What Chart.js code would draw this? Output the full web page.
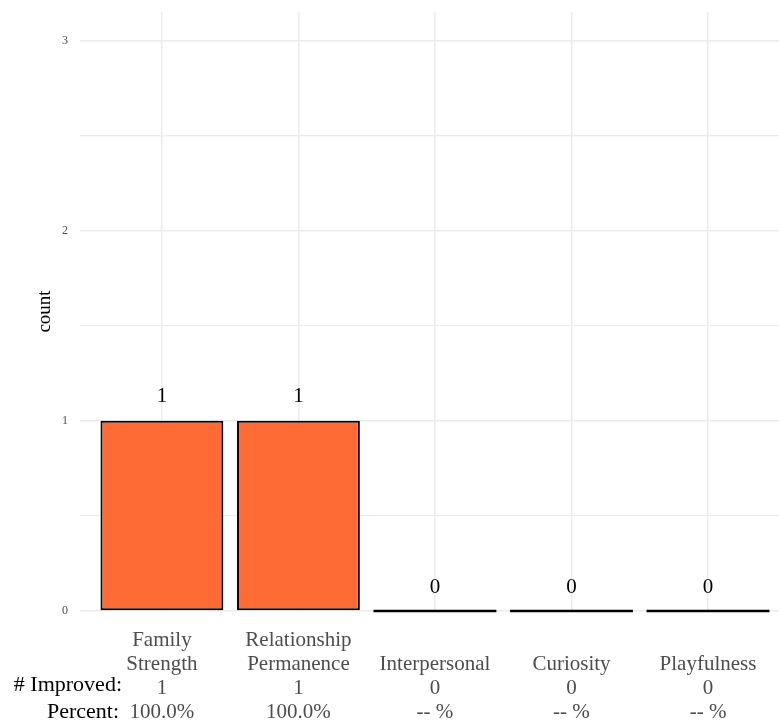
<!DOCTYPE html>
<html>
<head>
<meta charset="utf-8">
<script src="https://cdn.jsdelivr.net/npm/chart.js@4.4.1/dist/chart.umd.min.js"></script>
<style>
  html, body { margin: 0; padding: 0; background: #ffffff; }
  #wrap { width: 779px; height: 721px; }
</style>
</head>
<body>
<div id="wrap"><canvas id="chart" width="779" height="721"></canvas></div>
<script>
  // --- data ---
  var categoryLines = [
    ['Family', 'Strength'],
    ['Relationship', 'Permanence'],
    ['Interpersonal'],
    ['Curiosity'],
    ['Playfulness']
  ];
  var counts = [1, 1, 0, 0, 0];
  var improved = ['1', '1', '0', '0', '0'];
  var percents = ['100.0%', '100.0%', '-- %', '-- %', '-- %'];
  var yTicks = [0, 0.5, 1, 1.5, 2, 2.5, 3];
  var rowLabels = ['# Improved:', 'Percent:'];

  var SERIF = "'Liberation Serif', 'DejaVu Serif', serif";
  var GRID = '#ebebeb';
  var LABEL_LH = 23.8;
  var LABEL_PAD = 18;

  // pad short names so every tick label has 4 lines (name lines bottom-aligned)
  var tickLabels = categoryLines.map(function (lines, i) {
    var name = lines.slice();
    while (name.length < 2) name.unshift('');
    return name.concat([improved[i], percents[i]]);
  });

  var points = counts.map(function (v, i) { return { x: i, y: v }; });

  // value labels, flat bars for zero counts and the row captions
  var extrasPlugin = {
    id: 'extras',
    afterDatasetsDraw: function (chart) {
      var c = chart.ctx;
      var meta = chart.getDatasetMeta(0);
      c.save();
      meta.data.forEach(function (bar, i) {
        if (counts[i] === 0) {
          var half = bar.width / 2;
          c.strokeStyle = '#000000';
          c.lineWidth = 2.6;
          c.beginPath();
          c.moveTo(bar.x - half, bar.base);
          c.lineTo(bar.x + half, bar.base);
          c.stroke();
        }
        c.fillStyle = '#000000';
        c.font = '21px ' + SERIF;
        c.textAlign = 'center';
        c.textBaseline = 'middle';
        c.fillText(String(counts[i]), bar.x, bar.y - 24);
      });
      var xs = chart.scales.x;
      c.font = '22px ' + SERIF;
      c.textAlign = 'right';
      c.textBaseline = 'middle';
      rowLabels.forEach(function (t, k) {
        var y = xs.top + LABEL_PAD + LABEL_LH * (2.5 + k);
        c.fillText(t, k === 0 ? 122 : 119, y - (k === 0 ? 3 : 0));
      });
      c.restore();
    }
  };

  new Chart(document.getElementById('chart'), {
    type: 'bar',
    data: {
      datasets: [{
        data: points,
        backgroundColor: '#FF6B35',
        borderColor: '#000000',
        borderWidth: 2,
        borderSkipped: false,
        barPercentage: 0.9,
        categoryPercentage: 1.0
      }]
    },
    options: {
      responsive: false,
      animation: false,
      devicePixelRatio: 1,
      layout: { padding: { top: 12, right: 0, bottom: 0, left: 0 } },
      plugins: {
        legend: { display: false },
        tooltip: { enabled: false }
      },
      scales: {
        x: {
          type: 'linear',
          offset: false,
          min: -0.6,
          max: 4.52,
          afterBuildTicks: function (s) {
            s.ticks = categoryLines.map(function (_, i) { return { value: i }; });
          },
          afterFit: function (s) {
            s.height = 110;
            s.paddingLeft = 0;
            s.paddingRight = 0;
          },
          grid: { color: GRID, lineWidth: 1.5, drawTicks: false, offset: false },
          border: { display: false },
          ticks: {
            autoSkip: false,
            maxRotation: 0,
            padding: LABEL_PAD,
            color: '#4d4d4d',
            font: { family: SERIF, size: 21, lineHeight: LABEL_LH / 21 },
            callback: function (v) { return tickLabels[v]; }
          }
        },
        y: {
          min: 0,
          max: 3.15,
          afterBuildTicks: function (s) {
            s.ticks = yTicks.map(function (v) { return { value: v }; });
          },
          afterFit: function (s) {
            s.width = 80;
            s.paddingTop = 0;
            s.paddingBottom = 0;
          },
          grid: {
            color: GRID,
            drawTicks: false,
            lineWidth: function (ctx) {
              return ctx.tick && ctx.tick.value % 1 === 0 ? 1.6 : 1.3;
            }
          },
          border: { display: false },
          ticks: {
            padding: 12,
            color: '#4d4d4d',
            font: { family: SERIF, size: 12 },
            callback: function (v) { return v % 1 === 0 ? String(v) : ''; }
          },
          title: {
            display: true,
            text: 'count',
            color: '#000000',
            font: { family: SERIF, size: 19 },
            padding: { top: 34, bottom: 0 }
          }
        }
      }
    },
    plugins: [extrasPlugin]
  });
</script>
</body>
</html>
